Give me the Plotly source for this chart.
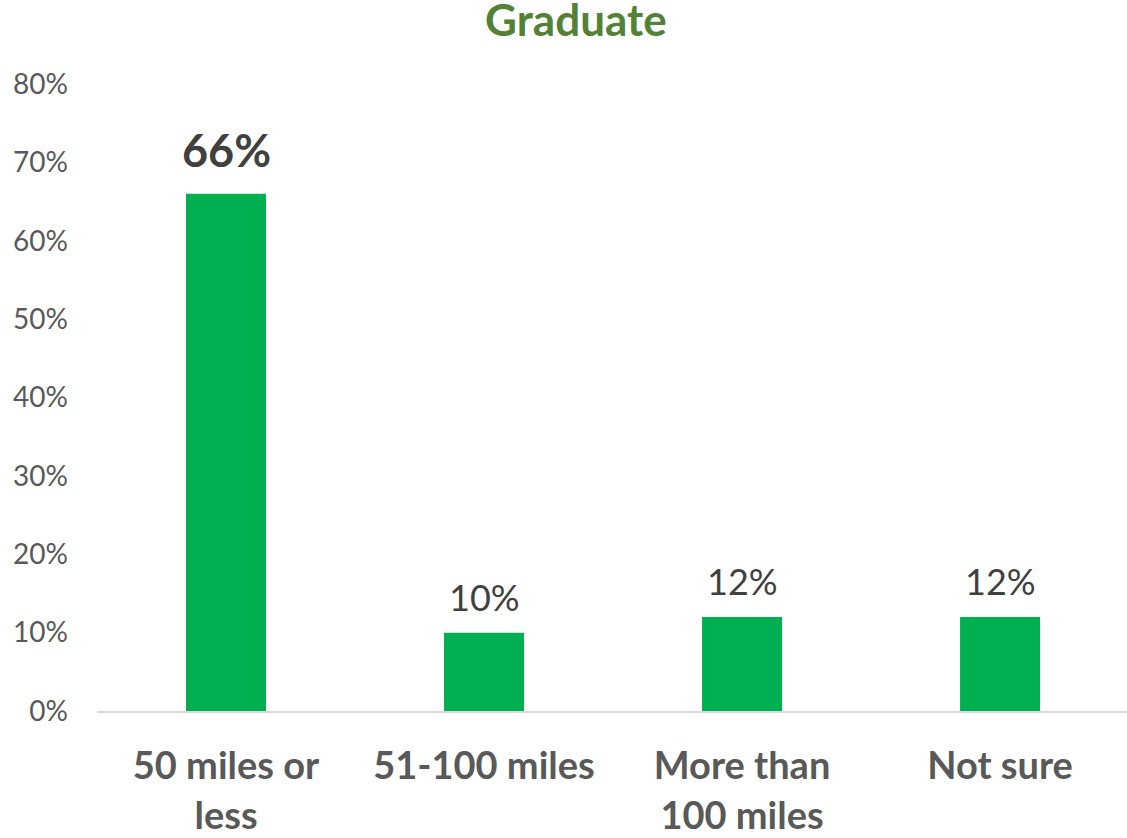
import plotly.graph_objects as go

categories = ["50 miles or<br>less", "51-100 miles", "More than<br>100 miles", "Not sure"]
values = [0.66, 0.10, 0.12, 0.12]
labels = ["66%", "10%", "12%", "12%"]
label_bold = [True, False, False, False]
y_ticks = [0, 0.1, 0.2, 0.3, 0.4, 0.5, 0.6, 0.7, 0.8]
y_tick_text = ["0%", "10%", "20%", "30%", "40%", "50%", "60%", "70%", "80%"]
title = "Graduate"

FONT = "Lato"

fig = go.Figure()
fig.add_trace(go.Bar(
    x=categories, y=values,
    marker=dict(color="#00B050", line=dict(width=0)),
    width=0.31,
    hoverinfo="skip",
))

for c, v, t, b in zip(categories, values, labels, label_bold):
    fig.add_annotation(
        x=c, y=v, xref="x", yref="y",
        text=f"<b>{t}</b>" if b else t,
        showarrow=False, yanchor="bottom",
        yshift=15 if b else 12,
        font=dict(family=FONT, size=45 if b else 36, color="#404040"),
    )

fig.update_layout(
    width=1127, height=838,
    margin=dict(l=97, r=0, t=84, b=127),
    paper_bgcolor="white", plot_bgcolor="white",
    showlegend=False,
    title=dict(
        text=f"<b>{title}</b>", x=0.511, xanchor="center",
        y=0.975, yanchor="middle", yref="container",
        font=dict(family=FONT, size=44, color="#538135"),
    ),
    xaxis=dict(
        range=[-0.5, 3.492],
        showgrid=False, zeroline=False,
        showline=True, linecolor="#D9D9D9", linewidth=1.5,
        ticks="", tickfont=dict(family=FONT, size=38, color="#595959"),
        ticklabelstandoff=21,
        tickprefix="<b>", ticksuffix="</b>",
    ),
    yaxis=dict(
        range=[0, 0.8], tickvals=y_ticks, ticktext=y_tick_text,
        showgrid=False, zeroline=False, showline=False,
        ticks="", tickfont=dict(family=FONT, size=28, color="#595959"),
        ticklabelstandoff=28,
    ),
)

fig.write_html("out.html")
